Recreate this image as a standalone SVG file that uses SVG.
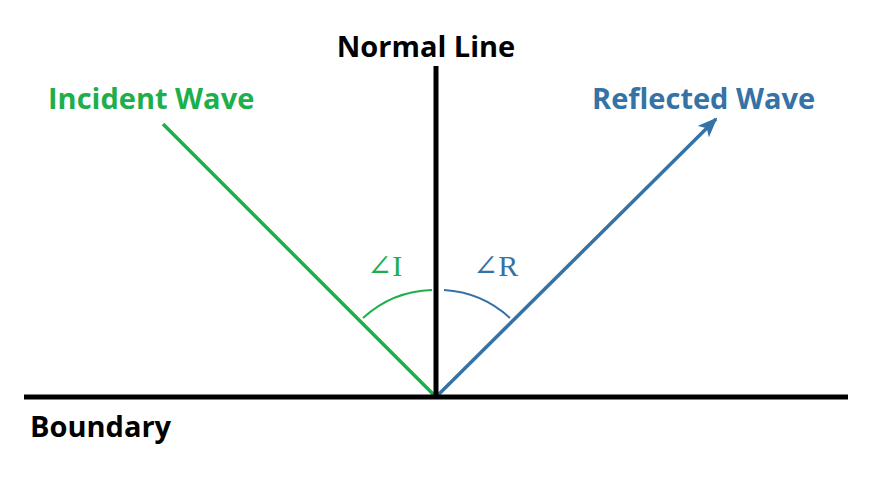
<svg xmlns="http://www.w3.org/2000/svg" width="875" height="500" viewBox="0 0 875 500">
<style>
.lbl{font-family:"Open Sans","Noto Sans",sans-serif;font-weight:bold;font-size:29px}
.ang{font-family:"Liberation Serif","DejaVu Serif",serif;font-size:30px}
</style>
<defs>
<marker id="ah" markerWidth="20" markerHeight="16" refX="18" refY="8" orient="auto" markerUnits="userSpaceOnUse" viewBox="0 0 20 16">
<path d="M0,0 L20,8 L0,16 L5,8 Z" fill="#3572a5"/>
</marker>
</defs>
<rect width="875" height="500" fill="#fff"/>
<g id="connectors">
<line x1="163" y1="124" x2="436" y2="397" stroke="#1daf4b" stroke-width="3.5"/>
<line x1="438" y1="395" x2="716" y2="119" stroke="#3572a5" stroke-width="3.5" marker-end="url(#ah)"/>
<path d="M363,318 A107,107 0 0 1 432,290" fill="none" stroke="#1daf4b" stroke-width="2"/>
<path d="M444,290 A107,107 0 0 1 510,318" fill="none" stroke="#3572a5" stroke-width="2"/>
</g>
<g id="boundary">
<line x1="24" y1="397" x2="848" y2="397" stroke="#000" stroke-width="5"/>
<text class="lbl" x="30" y="437" fill="#000">Boundary</text>
</g>
<g id="normal">
<line x1="436" y1="66" x2="436" y2="397" stroke="#000" stroke-width="5"/>
<text class="lbl" x="426" y="57" text-anchor="middle" fill="#000">Normal Line</text>
</g>
<g id="incident">
<text class="lbl" x="48" y="109" fill="#1daf4b">Incident Wave</text>
<text class="ang" x="367" y="276" fill="#1daf4b">∠I</text>
</g>
<g id="reflected">
<text class="lbl" x="592" y="109" fill="#3572a5">Reflected Wave</text>
<text class="ang" x="473" y="276" fill="#3572a5">∠R</text>
</g>
</svg>
